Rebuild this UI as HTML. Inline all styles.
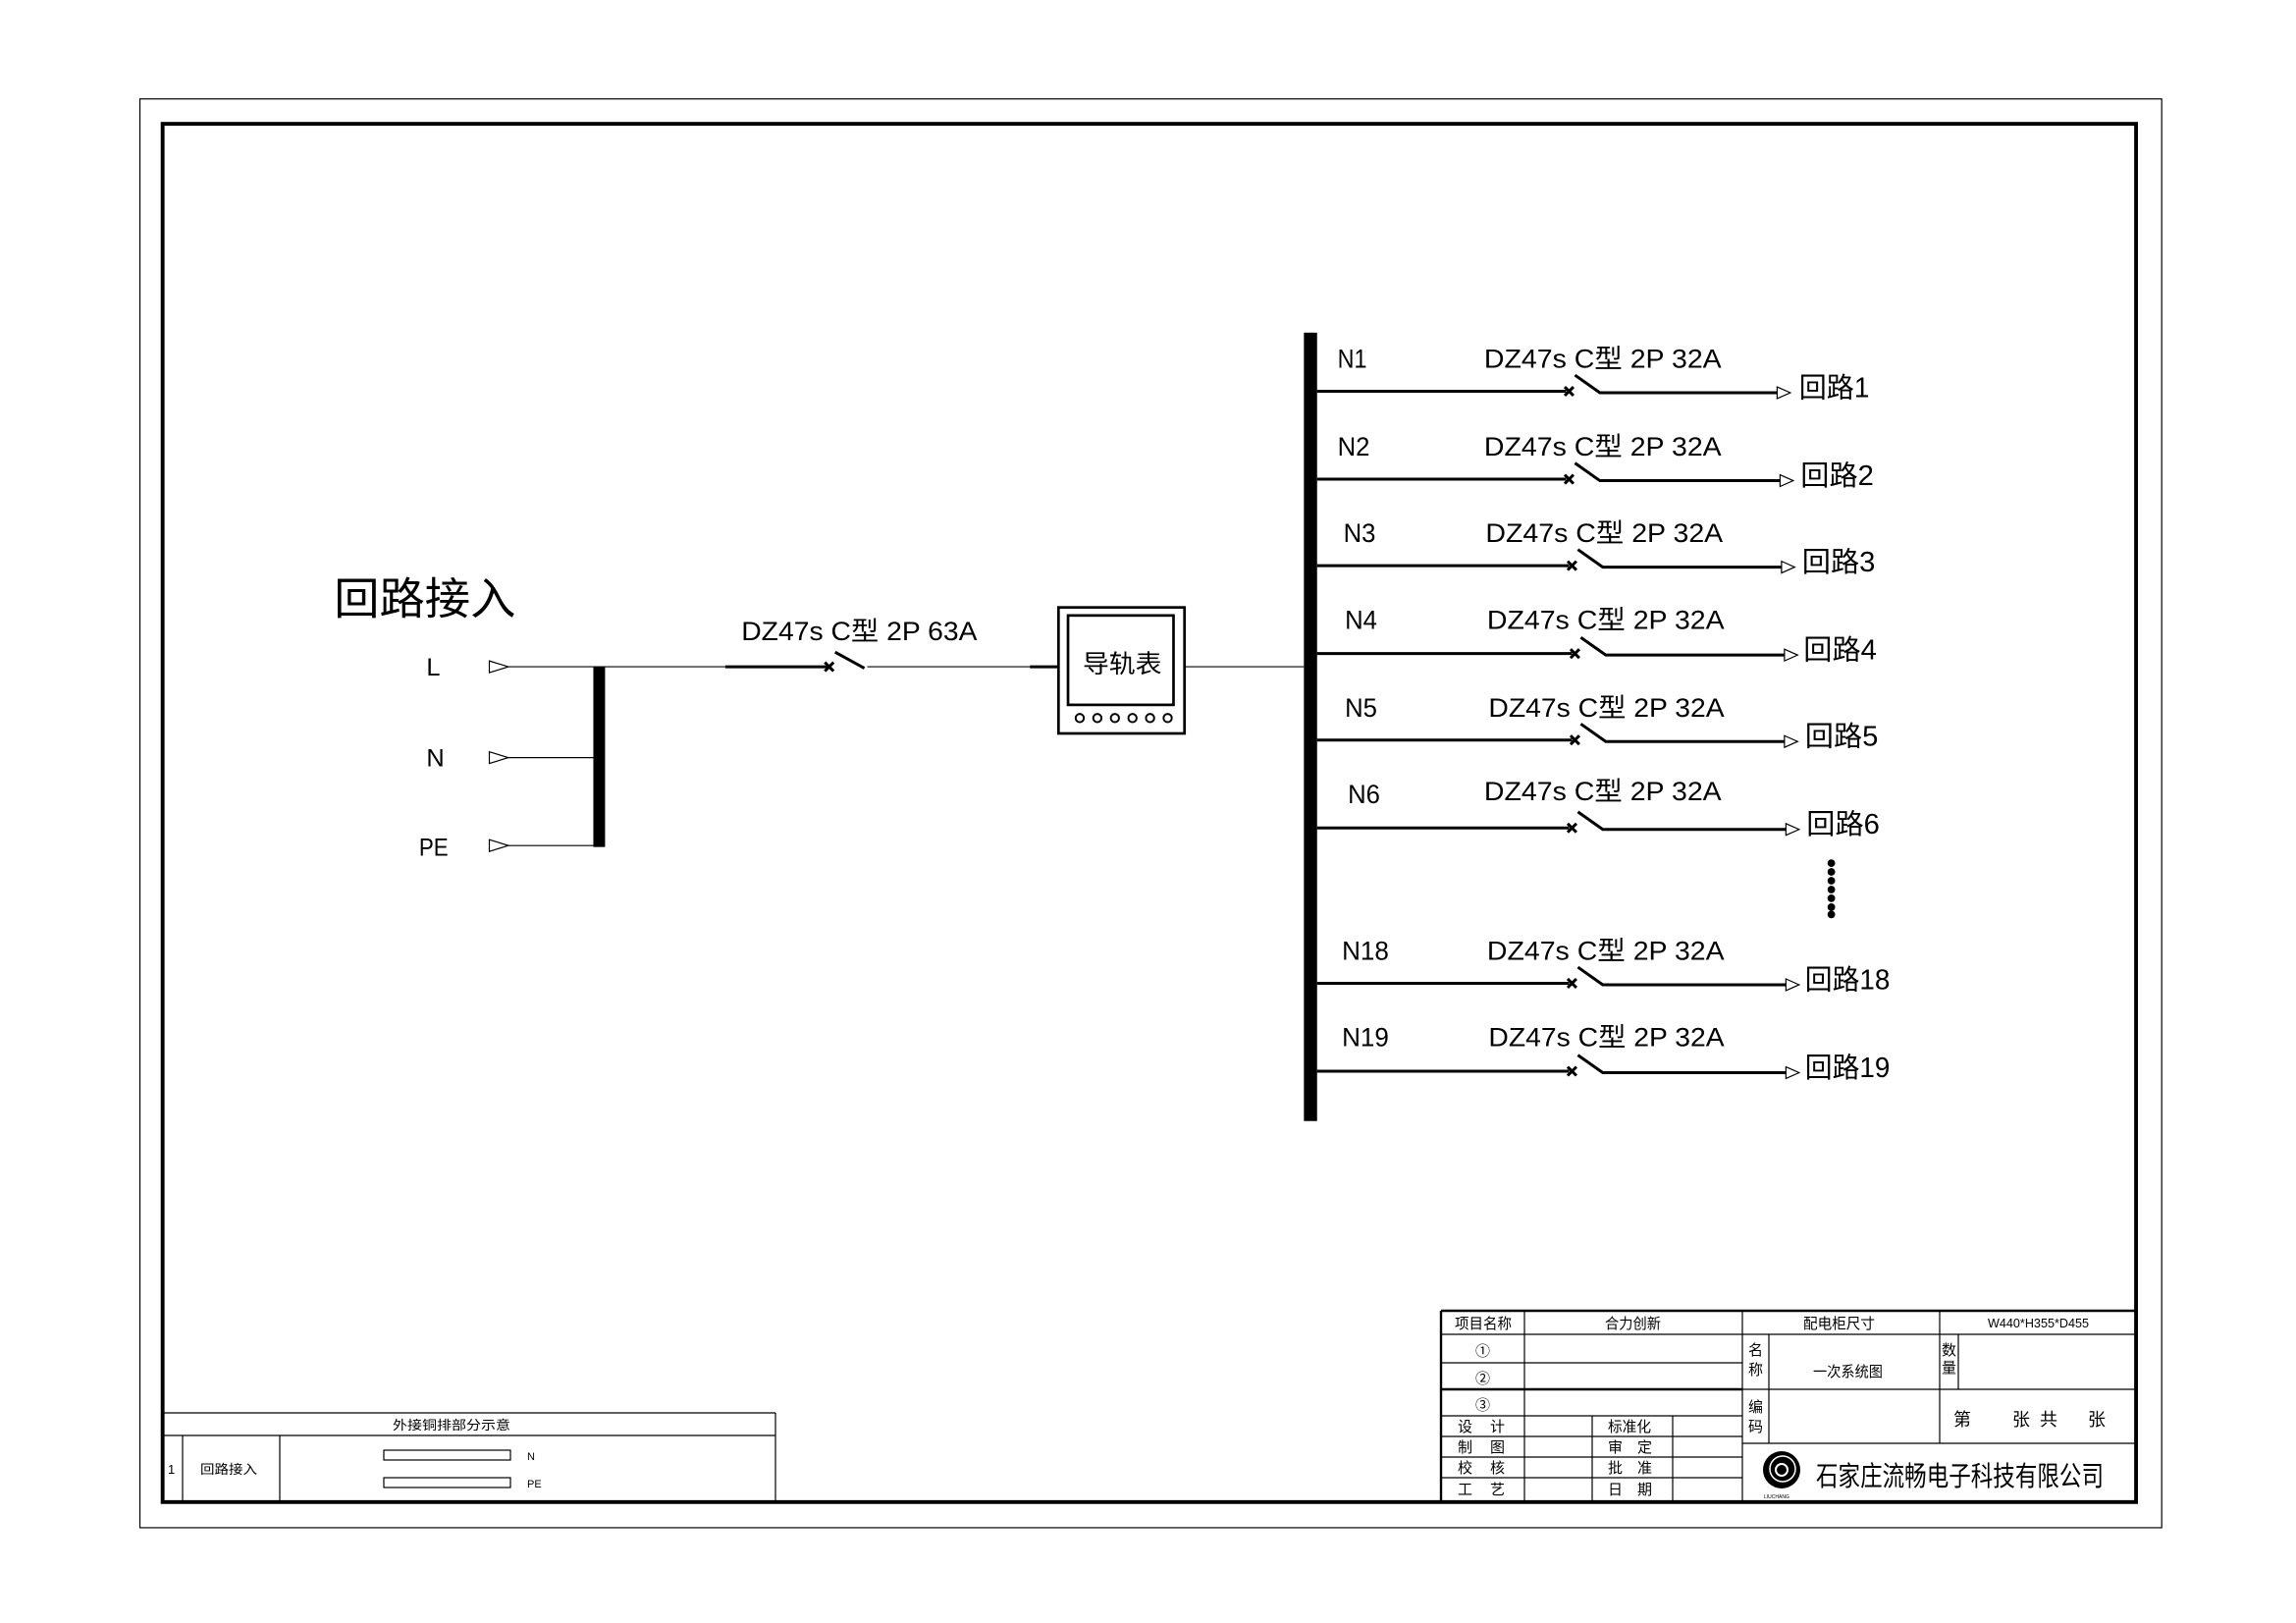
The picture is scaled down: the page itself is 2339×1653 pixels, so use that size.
<!DOCTYPE html>
<html><head><meta charset="utf-8"><style>
html,body{margin:0;padding:0;background:#fff;}
svg{display:block;}
text{font-family:"Liberation Sans","Noto Sans CJK SC",sans-serif;fill:#000;}
</style></head><body>
<svg width="2339" height="1653" viewBox="0 0 2339 1653" xmlns="http://www.w3.org/2000/svg">
<rect width="2339" height="1653" fill="#fff"/>
<g transform="scale(1.4925)" stroke="#000" fill="none">
  <rect x="95.5" y="67.5" width="1380" height="975" stroke-width="0.8"/>
  <rect x="111" y="84.5" width="1347" height="940.5" stroke-width="2.6"/>

  <g stroke-width="0.8">
    <polygon points="334,451 347,455 334,459"/>
    <polygon points="334,513 347,517 334,521"/>
    <polygon points="334,573 347,577 334,581"/>
    <line x1="347" y1="455" x2="495" y2="455"/>
    <line x1="347" y1="517" x2="409" y2="517"/>
    <line x1="347" y1="577" x2="409" y2="577"/>
    <line x1="592" y1="455" x2="703" y2="455"/>
    <line x1="808" y1="455" x2="890" y2="455"/>
  </g>
  <rect x="405" y="455" width="8" height="123" fill="#000" stroke="none"/>
  <g stroke-width="2">
    <line x1="495" y1="455" x2="565" y2="455"/>
    <line x1="563" y1="452" x2="569" y2="458"/><line x1="569" y1="452" x2="563" y2="458"/>
    <line x1="570" y1="445" x2="590" y2="456"/>
    <line x1="703" y1="455" x2="722" y2="455"/>
  </g>
  <rect x="722.5" y="414.5" width="86" height="86" stroke-width="1.8"/>
  <rect x="729" y="420" width="72" height="61" stroke-width="1.8"/>
  <g stroke-width="1.3">
    <circle cx="737" cy="490" r="2.8"/><circle cx="749" cy="490" r="2.8"/><circle cx="761" cy="490" r="2.8"/>
    <circle cx="773" cy="490" r="2.8"/><circle cx="785" cy="490" r="2.8"/><circle cx="797" cy="490" r="2.8"/>
  </g>

  <rect x="890" y="227" width="9" height="538" fill="#000" stroke="none"/>

  <g stroke-width="2">
    <path d="M899 267H1069 M1068 264l6 6 M1074 264l-6 6 M1075 256L1092 268H1213"/>
    <path d="M899 327H1069 M1068 324l6 6 M1074 324l-6 6 M1075 316L1092 328H1215"/>
    <path d="M899 386H1071 M1070 383l6 6 M1076 383l-6 6 M1077 375L1094 387H1216"/>
    <path d="M899 446H1073 M1072 443l6 6 M1078 443l-6 6 M1079 435L1096 447H1218"/>
    <path d="M899 505H1073 M1072 502l6 6 M1078 502l-6 6 M1079 494L1096 506H1218"/>
    <path d="M899 565H1071 M1070 562l6 6 M1076 562l-6 6 M1077 554L1094 566H1219"/>
    <path d="M899 671H1071 M1070 668l6 6 M1076 668l-6 6 M1077 660L1094 672H1219"/>
    <path d="M899 731H1071 M1070 728l6 6 M1076 728l-6 6 M1077 720L1094 732H1219"/>
  </g>
  <g stroke-width="0.8">
    <polygon points="1213,264 1222,268 1213,272"/>
    <polygon points="1215,324 1224,328 1215,332"/>
    <polygon points="1216,383 1225,387 1216,391"/>
    <polygon points="1218,443 1227,447 1218,451"/>
    <polygon points="1218,502 1227,506 1218,510"/>
    <polygon points="1219,562 1228,566 1219,570"/>
    <polygon points="1219,668 1228,672 1219,676"/>
    <polygon points="1219,728 1228,732 1219,736"/>
  </g>
  <g fill="#000" stroke="none">
    <circle cx="1250" cy="589" r="2.6"/><circle cx="1250" cy="595" r="2.6"/><circle cx="1250" cy="601" r="2.6"/>
    <circle cx="1250" cy="607" r="2.6"/><circle cx="1250" cy="613" r="2.6"/><circle cx="1250" cy="619" r="2.6"/>
    <circle cx="1250" cy="624" r="2.6"/>
  </g>
</g>

<g transform="scale(1.4925)" font-size="19">
  <text x="228" y="419" font-size="30" textLength="124" lengthAdjust="spacingAndGlyphs">回路接入</text>
  <text x="291" y="461" font-size="17">L</text>
  <text x="291" y="523" font-size="17">N</text>
  <text x="286" y="584" font-size="17" textLength="20" lengthAdjust="spacingAndGlyphs">PE</text>
  <text x="506" y="437" font-size="18" textLength="161" lengthAdjust="spacingAndGlyphs">DZ47s C型 2P 63A</text>
  <text x="739" y="459" font-size="17" textLength="54" lengthAdjust="spacingAndGlyphs">导轨表</text>

  <g font-size="18">
  <text x="913" y="251" textLength="20" lengthAdjust="spacingAndGlyphs">N1</text>
  <text x="913" y="311" textLength="22" lengthAdjust="spacingAndGlyphs">N2</text>
  <text x="917" y="370" textLength="22" lengthAdjust="spacingAndGlyphs">N3</text>
  <text x="918" y="429" textLength="22" lengthAdjust="spacingAndGlyphs">N4</text>
  <text x="918" y="489" textLength="22" lengthAdjust="spacingAndGlyphs">N5</text>
  <text x="920" y="548" textLength="22" lengthAdjust="spacingAndGlyphs">N6</text>
  <text x="916" y="655" textLength="32" lengthAdjust="spacingAndGlyphs">N18</text>
  <text x="916" y="714" textLength="32" lengthAdjust="spacingAndGlyphs">N19</text>

  <text x="1013" y="251" textLength="162" lengthAdjust="spacingAndGlyphs">DZ47s C型 2P 32A</text>
  <text x="1013" y="311" textLength="162" lengthAdjust="spacingAndGlyphs">DZ47s C型 2P 32A</text>
  <text x="1014" y="370" textLength="162" lengthAdjust="spacingAndGlyphs">DZ47s C型 2P 32A</text>
  <text x="1015" y="429" textLength="162" lengthAdjust="spacingAndGlyphs">DZ47s C型 2P 32A</text>
  <text x="1016" y="489" textLength="161" lengthAdjust="spacingAndGlyphs">DZ47s C型 2P 32A</text>
  <text x="1013" y="546" textLength="162" lengthAdjust="spacingAndGlyphs">DZ47s C型 2P 32A</text>
  <text x="1015" y="655" textLength="162" lengthAdjust="spacingAndGlyphs">DZ47s C型 2P 32A</text>
  <text x="1016" y="714" textLength="161" lengthAdjust="spacingAndGlyphs">DZ47s C型 2P 32A</text>
  </g>
  <text x="1228" y="271" textLength="48" lengthAdjust="spacingAndGlyphs">回路1</text>
  <text x="1229" y="331" textLength="50" lengthAdjust="spacingAndGlyphs">回路2</text>
  <text x="1230" y="390" textLength="50" lengthAdjust="spacingAndGlyphs">回路3</text>
  <text x="1231" y="450" textLength="50" lengthAdjust="spacingAndGlyphs">回路4</text>
  <text x="1232" y="509" textLength="50" lengthAdjust="spacingAndGlyphs">回路5</text>
  <text x="1233" y="569" textLength="50" lengthAdjust="spacingAndGlyphs">回路6</text>
  <text x="1232" y="675" textLength="58" lengthAdjust="spacingAndGlyphs">回路18</text>
  <text x="1232" y="735" textLength="58" lengthAdjust="spacingAndGlyphs">回路19</text>
</g>

<!-- bottom-left table -->
<g stroke="#000" fill="none" stroke-width="1.2">
  <line x1="167" y1="1439" x2="790" y2="1439"/>
  <line x1="167" y1="1462" x2="790" y2="1462"/>
  <line x1="790" y1="1439" x2="790" y2="1530"/>
  <line x1="186" y1="1462" x2="186" y2="1530"/>
  <line x1="285" y1="1462" x2="285" y2="1530"/>
  <rect x="391" y="1477" width="129" height="10"/>
  <rect x="391" y="1505" width="129" height="10"/>
</g>
<g font-size="13">
  <text x="400" y="1456" textLength="120" lengthAdjust="spacingAndGlyphs">外接铜排部分示意</text>
  <text x="171" y="1501">1</text>
  <text x="204" y="1501" textLength="58" lengthAdjust="spacingAndGlyphs">回路接入</text>
  <text x="537" y="1487" font-size="11">N</text>
  <text x="537" y="1515" font-size="11">PE</text>
</g>

<!-- title block -->
<g stroke="#000" fill="none" stroke-width="1.2">
  <line x1="1468" y1="1335" x2="2176" y2="1335" stroke-width="2.4"/>
  <line x1="1468" y1="1335" x2="1468" y2="1530" stroke-width="2.4"/>
  <line x1="1468" y1="1359" x2="2176" y2="1359"/>
  <line x1="1468" y1="1388" x2="1775" y2="1388"/>
  <line x1="1468" y1="1415" x2="1775" y2="1415" stroke-width="2.4"/>
  <line x1="1775" y1="1415" x2="2176" y2="1415"/>
  <line x1="1468" y1="1442" x2="1775" y2="1442"/>
  <line x1="1775" y1="1470" x2="2176" y2="1470"/>
  <line x1="1468" y1="1463" x2="1775" y2="1463"/>
  <line x1="1468" y1="1484" x2="1775" y2="1484"/>
  <line x1="1468" y1="1505" x2="1775" y2="1505"/>
  <line x1="1553" y1="1335" x2="1553" y2="1530"/>
  <line x1="1622" y1="1442" x2="1622" y2="1530"/>
  <line x1="1704" y1="1442" x2="1704" y2="1530"/>
  <line x1="1775" y1="1335" x2="1775" y2="1530"/>
  <line x1="1802" y1="1359" x2="1802" y2="1470"/>
  <line x1="1976" y1="1335" x2="1976" y2="1470"/>
  <line x1="1995" y1="1359" x2="1995" y2="1415"/>
</g>
<g font-size="15">
  <text x="1482" y="1353" textLength="58" lengthAdjust="spacingAndGlyphs">项目名称</text>
  <text x="1635" y="1353" textLength="57" lengthAdjust="spacingAndGlyphs">合力创新</text>
  <text x="1837" y="1353" textLength="73" lengthAdjust="spacingAndGlyphs">配电柜尺寸</text>
  <text x="2025" y="1352" font-size="13" textLength="103" lengthAdjust="spacingAndGlyphs">W440*H355*D455</text>
  <text x="1503" y="1381">①</text>
  <text x="1503" y="1409">②</text>
  <text x="1503" y="1436">③</text>
  <text x="1781" y="1380">名</text>
  <text x="1781" y="1400">称</text>
  <text x="1847" y="1402" textLength="71" lengthAdjust="spacingAndGlyphs">一次系统图</text>
  <text x="1978" y="1380">数</text>
  <text x="1978" y="1398">量</text>
  <text x="1781" y="1438">编</text>
  <text x="1781" y="1458">码</text>
  <text x="1990" y="1452" font-size="18">第</text>
  <text x="2050" y="1452" font-size="18">张</text>
  <text x="2078" y="1452" font-size="18">共</text>
  <text x="2127" y="1452" font-size="18">张</text>
  <text x="1485" y="1458">设</text><text x="1518" y="1458">计</text>
  <text x="1485" y="1479">制</text><text x="1518" y="1479">图</text>
  <text x="1485" y="1500">校</text><text x="1518" y="1500">核</text>
  <text x="1485" y="1522">工</text><text x="1518" y="1522">艺</text>
  <text x="1638" y="1458" textLength="44" lengthAdjust="spacingAndGlyphs">标准化</text>
  <text x="1638" y="1479">审</text><text x="1668" y="1479">定</text>
  <text x="1638" y="1500">批</text><text x="1668" y="1500">准</text>
  <text x="1638" y="1522">日</text><text x="1668" y="1522">期</text>
  <text x="1850" y="1513" font-size="28" textLength="293" lengthAdjust="spacingAndGlyphs">石家庄流畅电子科技有限公司</text>
  <text x="1797" y="1526" font-size="5">LIUCHANG</text>
</g>
<circle cx="1815" cy="1497" r="19" fill="#000"/>
<circle cx="1816" cy="1496" r="13" fill="none" stroke="#fff" stroke-width="1.5"/>
<circle cx="1815" cy="1497" r="6" fill="none" stroke="#fff" stroke-width="2"/>
</svg>
</body></html>
